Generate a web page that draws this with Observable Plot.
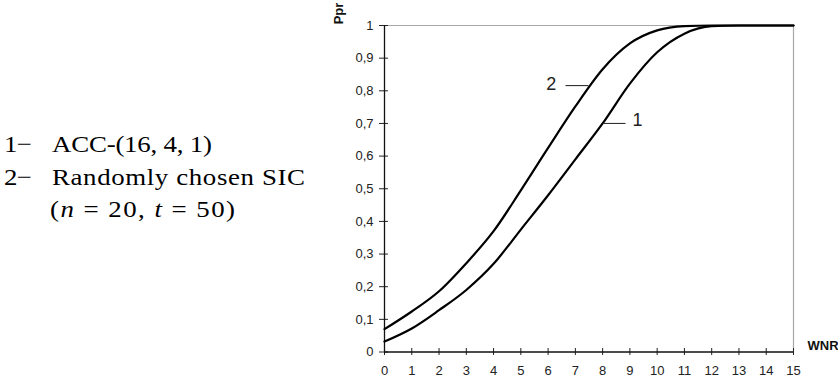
<!DOCTYPE html>
<html><head><meta charset="utf-8">
<script src="https://cdn.jsdelivr.net/npm/d3@7"></script>
<script src="https://cdn.jsdelivr.net/npm/@observablehq/plot@0.6"></script>
<style>
body{margin:0;background:#fff;}
#wrap{position:relative;width:838px;height:380px;overflow:hidden;background:#fff;}
#chart{position:absolute;left:0;top:0;}
#legend{position:absolute;left:0;top:0;}
</style></head><body>
<div id="wrap"><div id="chart"></div><svg id="legend" width="330" height="380"></svg></div>
<script>
// ---- data ----
const wnr = [0,1,2,3,4,5,6,7,8,9,10,11,12,13,14,15];
const curve1 = [0.032,0.072,0.128,0.19,0.27,0.375,0.48,0.59,0.70,0.822,0.918,0.975,0.998,1,1,1]; // ACC-(16,4,1)
const curve2 = [0.07,0.124,0.186,0.272,0.37,0.495,0.625,0.752,0.866,0.945,0.985,0.998,1,1,1,1]; // random SIC
const xTicks = [0,1,2,3,4,5,6,7,8,9,10,11,12,13,14,15];
const yTicks = [0,0.1,0.2,0.3,0.4,0.5,0.6,0.7,0.8,0.9,1];
const curveLabels = ["1","2"];
const labelX = [9.28, 6.12];
const labelY = [0.71, 0.82];
const leaderX1 = [8.03, 6.64];
const leaderX2 = [8.84, 7.48];
const leaderY = [0.70, 0.816];
const legendNums = ["1\u2212", "2\u2212"];
const legendTexts = ["ACC-(16, 4, 1)", "Randomly chosen SIC"];

// ---- build tables ----
const rows = [];
wnr.forEach((x,i)=>{ rows.push({x, y:curve1[i], s:"1"}); rows.push({x, y:curve2[i], s:"2"}); });
const ann = curveLabels.map((t,i)=>({t, lx:labelX[i], ly:labelY[i], x1:leaderX1[i], x2:leaderX2[i], y:leaderY[i]}));
const fmt = d => String(d).replace(".", ",");

const chart = Plot.plot({
  width: 838, height: 380,
  marginLeft: 384, marginRight: 45, marginTop: 25, marginBottom: 28.5,
  x: {domain: [0, 15], axis: null},
  y: {domain: [0, 1], axis: null},
  style: {fontFamily: "'Liberation Sans', Arial, sans-serif", background: "#fff"},
  marks: [
    Plot.ruleY([1], {stroke: "#a8a8a8", strokeWidth: 1.2}),
    Plot.ruleX([15], {stroke: "#a8a8a8", strokeWidth: 1.2}),
    Plot.axisX(xTicks, {tickSize: 7, dy: -3.5, tickPadding: 10, fontSize: 13, stroke: "#222", fill: "#222", label: null, tickFormat: d => String(d)}),
    Plot.axisY(yTicks, {tickSize: 9, dx: 4, tickPadding: 6, fontSize: 13, stroke: "#222", fill: "#222", label: null, tickFormat: fmt}),
    Plot.ruleX([0], {stroke: "#111", strokeWidth: 1.3}),
    Plot.ruleY([0], {stroke: "#111", strokeWidth: 1.3}),
    Plot.line(rows, {x: "x", y: "y", z: "s", curve: "monotone-x", stroke: "#000", strokeWidth: 2.2}),
    Plot.link(ann, {x1: "x1", x2: "x2", y1: "y", y2: "y", stroke: "#333", strokeWidth: 1.1}),
    Plot.text(ann, {x: "lx", y: "ly", text: "t", fontSize: 18, fill: "#222", lineAnchor: "middle"}),
    Plot.text(["Ppr"], {frameAnchor: "top-left", dx: -45.5, dy: -12, rotate: -90, text: d => d, fontSize: 13, fontWeight: "bold", fill: "#111", textAnchor: "middle", lineAnchor: "middle"}),
    Plot.text(["WNR"], {frameAnchor: "bottom-right", dx: 14, dy: -6.5, text: d => d, fontSize: 13, fontWeight: "bold", fill: "#111", textAnchor: "start", lineAnchor: "middle"})
  ]
});
document.getElementById("chart").appendChild(chart);

// ---- legend (LaTeX-like serif text, widened to mimic Computer Modern) ----
const sx = 1.12;
const g = d3.select("#legend").append("g").attr("transform", `scale(${sx},1)`)
  .attr("font-family", "'Liberation Serif', 'DejaVu Serif', serif").attr("font-size", 24).attr("fill", "#000");
const base = [152, 185];
legendNums.forEach((n,i)=>{
  g.append("text").attr("x", 4/sx).attr("y", base[i]).attr("textLength", 28/sx).attr("lengthAdjust", "spacing").text(n);
  g.append("text").attr("x", 52/sx).attr("y", base[i]).attr("textLength", (i === 0 ? 160 : 253)/sx).attr("lengthAdjust", "spacing").text(legendTexts[i]);
});
const t3 = g.append("text").attr("x", 50/sx).attr("y", 217).attr("textLength", 185/sx).attr("lengthAdjust", "spacing");
t3.append("tspan").text("(");
t3.append("tspan").attr("font-style", "italic").text("n");
t3.append("tspan").text(" = 20, ");
t3.append("tspan").attr("font-style", "italic").text("t");
t3.append("tspan").text(" = 50)");
</script>
</body></html>
